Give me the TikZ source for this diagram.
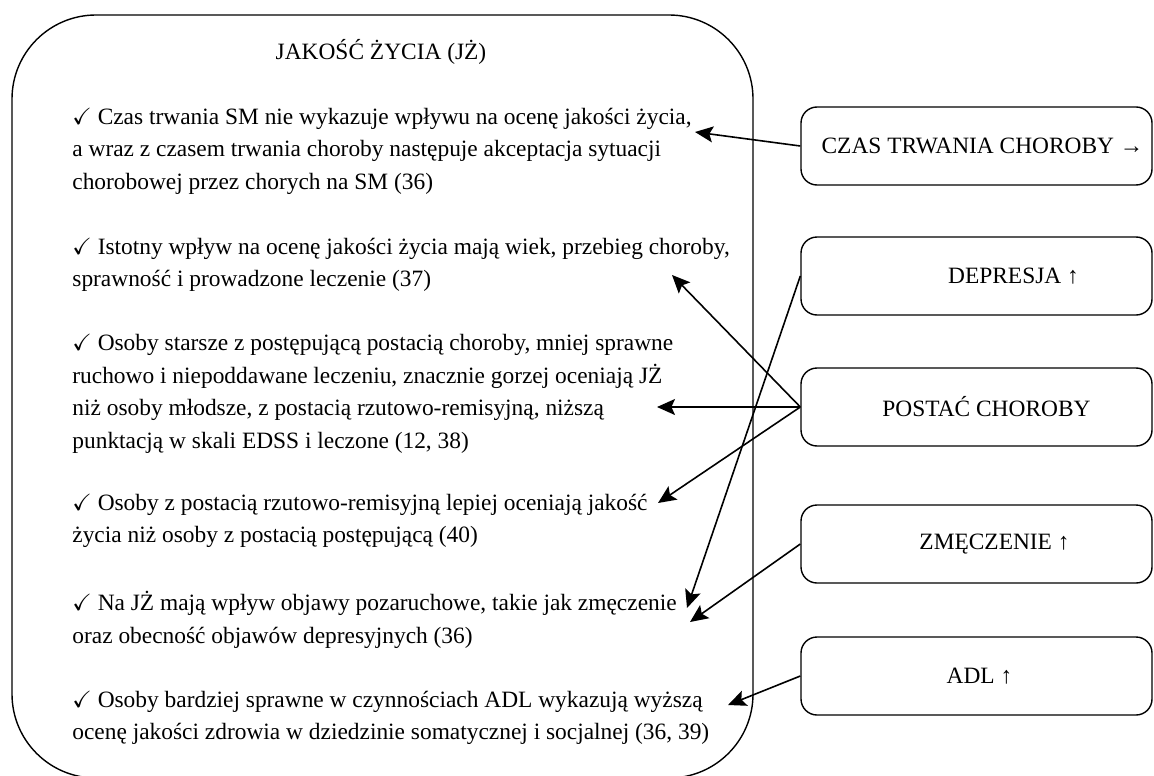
\documentclass[tikz,border=0pt]{standalone}
\usepackage{amssymb}
\usepackage{fontspec}
\setmainfont{Liberation Serif}
\usetikzlibrary{arrows.meta}

\newcommand{\tick}{$\checkmark$\ }

\begin{document}
\begin{tikzpicture}[x=0.5pt, y=-0.5pt,
    txt/.style={font=\fontsize{11.7}{16.25}\selectfont},
    para/.style={txt, anchor=west, align=left, inner sep=0pt},
    factor/.style={txt, draw, line width=0.7pt, rounded corners=8pt,
      minimum width=175.5pt, minimum height=39pt, inner sep=0pt},
    link/.style={-{Stealth[length=9pt, width=8pt, inset=1.8pt]}, line width=0.8pt}]
    \useasboundingbox (0,0) rectangle (1154,775);
    % frame and title
    \node[draw, line width=0.7pt, rounded corners=42pt, inner sep=0pt,
      minimum width=370.5pt, minimum height=381.5pt] (qol) at (382.5,396.5) {};
    \node[txt]  (title) at (381,52) {JAKOŚĆ ŻYCIA (JŻ)};
    % findings
    \node[para] (p1) at (72,151) {\tick Czas trwania SM nie wykazuje wpływu na ocenę jakości życia,\\
      a wraz z czasem trwania choroby następuje akceptacja sytuacji\\
      chorobowej przez chorych na SM (36)};
    \node[para] (p2) at (72,265) {\tick Istotny wpływ na ocenę jakości życia mają wiek, przebieg choroby,\\
      sprawność i prowadzone leczenie (37)};
    \node[para] (p3) at (72,394) {\tick Osoby starsze z postępującą postacią choroby, mniej sprawne\\
      ruchowo i niepoddawane leczeniu, znacznie gorzej oceniają JŻ\\
      niż osoby młodsze, z postacią rzutowo-remisyjną, niższą\\
      punktacją w skali EDSS i leczone (12, 38)};
    \node[para] (p4) at (72,521) {\tick Osoby z postacią rzutowo-remisyjną lepiej oceniają jakość\\
      życia niż osoby z postacią postępującą (40)};
    \node[para] (p5) at (72,620) {\tick Na JŻ mają wpływ objawy pozaruchowe, takie jak zmęczenie\\
      oraz obecność objawów depresyjnych (36)};
    \node[para] (p6) at (72,718) {\tick Osoby bardziej sprawne w czynnościach ADL wykazują wyższą\\
      ocenę jakości zdrowia w dziedzinie somatycznej i socjalnej (36, 39)};
    % factors
    \node[factor] (czas)      at (976.5,146) {\hspace*{6pt}CZAS TRWANIA CHOROBY →};
    \node[factor] (depresja)  at (976.5,276) {\hspace*{37pt}DEPRESJA ↑};
    \node[factor] (postac)    at (976.5,407) {\hspace*{10pt}POSTAĆ CHOROBY};
    \node[factor] (zmeczenie) at (976.5,544) {\hspace*{18pt}ZMĘCZENIE ↑};
    \node[factor] (adl)       at (976.5,676) {\hspace*{3pt}ADL ↑};
    % arrow ends
    \coordinate (e1)  at (695,132);
    \coordinate (e2)  at (672,275);
    \coordinate (e3)  at (657,407);
    \coordinate (e4)  at (658,503);
    \coordinate (e5a) at (687,608);
    \coordinate (e5b) at (690,622);
    \coordinate (e6)  at (728,705);
    % links
    \draw[link] (czas.west) -- (e1);
    \draw[link] (postac.west) -- (e2);
    \draw[link] (postac.west) -- (e3);
    \draw[link] (postac.west) -- (e4);
    \draw[link] (depresja.west) -- (e5a);
    \draw[link] (zmeczenie.west) -- (e5b);
    \draw[link] (adl.west) -- (e6);
\end{tikzpicture}
\end{document}
